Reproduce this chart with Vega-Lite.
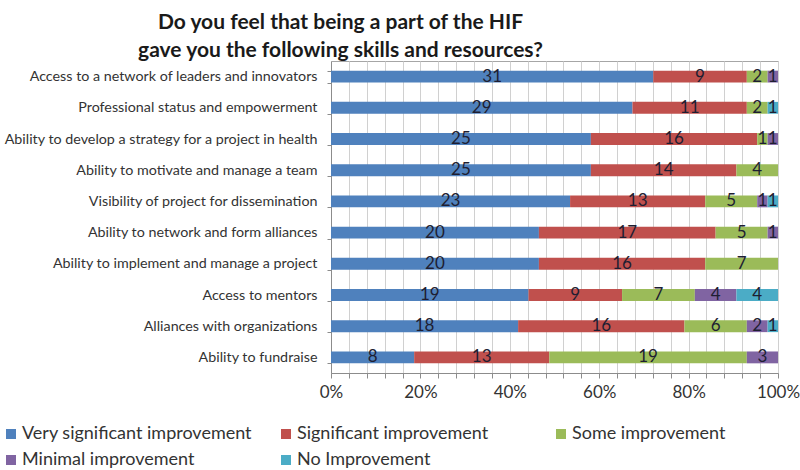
{
  "$schema": "https://vega.github.io/schema/vega-lite/v6.json",
  "autosize": "none",
  "width": 447,
  "height": 312,
  "padding": {"left": 331, "top": 61, "right": 22, "bottom": 97},
  "background": "white",
  "config": {
    "font": "Lato",
    "view": {"stroke": "#a6a6a6", "strokeWidth": 1}
  },
  "title": {
    "text": ["Do you feel that being a part of the HIF", "gave you the following skills and resources?"],
    "anchor": "middle",
    "frame": "group",
    "dx": -214,
    "fontSize": 21,
    "fontWeight": "bold",
    "color": "#1a1a1a",
    "lineHeight": 28.5,
    "offset": -7,
    "font": "Lato"
  },
  "data": {
    "values": [
      {"skill": "Access to a network of leaders and innovators", "level": "Very significant improvement", "rank": 1, "n": 31},
      {"skill": "Access to a network of leaders and innovators", "level": "Significant improvement", "rank": 2, "n": 9},
      {"skill": "Access to a network of leaders and innovators", "level": "Some improvement", "rank": 3, "n": 2},
      {"skill": "Access to a network of leaders and innovators", "level": "Minimal improvement", "rank": 4, "n": 1},
      {"skill": "Professional status and empowerment", "level": "Very significant improvement", "rank": 1, "n": 29},
      {"skill": "Professional status and empowerment", "level": "Significant improvement", "rank": 2, "n": 11},
      {"skill": "Professional status and empowerment", "level": "Some improvement", "rank": 3, "n": 2},
      {"skill": "Professional status and empowerment", "level": "No Improvement", "rank": 5, "n": 1},
      {"skill": "Ability to develop a strategy for a project in health", "level": "Very significant improvement", "rank": 1, "n": 25},
      {"skill": "Ability to develop a strategy for a project in health", "level": "Significant improvement", "rank": 2, "n": 16},
      {"skill": "Ability to develop a strategy for a project in health", "level": "Some improvement", "rank": 3, "n": 1},
      {"skill": "Ability to develop a strategy for a project in health", "level": "Minimal improvement", "rank": 4, "n": 1},
      {"skill": "Ability to motivate and manage a team", "level": "Very significant improvement", "rank": 1, "n": 25},
      {"skill": "Ability to motivate and manage a team", "level": "Significant improvement", "rank": 2, "n": 14},
      {"skill": "Ability to motivate and manage a team", "level": "Some improvement", "rank": 3, "n": 4},
      {"skill": "Visibility of project for dissemination", "level": "Very significant improvement", "rank": 1, "n": 23},
      {"skill": "Visibility of project for dissemination", "level": "Significant improvement", "rank": 2, "n": 13},
      {"skill": "Visibility of project for dissemination", "level": "Some improvement", "rank": 3, "n": 5},
      {"skill": "Visibility of project for dissemination", "level": "Minimal improvement", "rank": 4, "n": 1},
      {"skill": "Visibility of project for dissemination", "level": "No Improvement", "rank": 5, "n": 1},
      {"skill": "Ability to network and form alliances", "level": "Very significant improvement", "rank": 1, "n": 20},
      {"skill": "Ability to network and form alliances", "level": "Significant improvement", "rank": 2, "n": 17},
      {"skill": "Ability to network and form alliances", "level": "Some improvement", "rank": 3, "n": 5},
      {"skill": "Ability to network and form alliances", "level": "Minimal improvement", "rank": 4, "n": 1},
      {"skill": "Ability to implement and manage a project", "level": "Very significant improvement", "rank": 1, "n": 20},
      {"skill": "Ability to implement and manage a project", "level": "Significant improvement", "rank": 2, "n": 16},
      {"skill": "Ability to implement and manage a project", "level": "Some improvement", "rank": 3, "n": 7},
      {"skill": "Access to mentors", "level": "Very significant improvement", "rank": 1, "n": 19},
      {"skill": "Access to mentors", "level": "Significant improvement", "rank": 2, "n": 9},
      {"skill": "Access to mentors", "level": "Some improvement", "rank": 3, "n": 7},
      {"skill": "Access to mentors", "level": "Minimal improvement", "rank": 4, "n": 4},
      {"skill": "Access to mentors", "level": "No Improvement", "rank": 5, "n": 4},
      {"skill": "Alliances with organizations", "level": "Very significant improvement", "rank": 1, "n": 18},
      {"skill": "Alliances with organizations", "level": "Significant improvement", "rank": 2, "n": 16},
      {"skill": "Alliances with organizations", "level": "Some improvement", "rank": 3, "n": 6},
      {"skill": "Alliances with organizations", "level": "Minimal improvement", "rank": 4, "n": 2},
      {"skill": "Alliances with organizations", "level": "No Improvement", "rank": 5, "n": 1},
      {"skill": "Ability to fundraise", "level": "Very significant improvement", "rank": 1, "n": 8},
      {"skill": "Ability to fundraise", "level": "Significant improvement", "rank": 2, "n": 13},
      {"skill": "Ability to fundraise", "level": "Some improvement", "rank": 3, "n": 19},
      {"skill": "Ability to fundraise", "level": "Minimal improvement", "rank": 4, "n": 3}
    ]
  },
  "transform": [
    {"stack": "n", "groupby": ["skill"], "sort": [{"field": "rank", "order": "ascending"}], "offset": "normalize", "as": ["v0", "v1"]},
    {"calculate": "(datum.v0 + datum.v1) / 2", "as": "mid"}
  ],
  "encoding": {
    "y": {
      "field": "skill",
      "type": "nominal",
      "sort": null,
      "title": null,
      "scale": {"paddingInner": 0.62, "paddingOuter": 0.31},
      "axis": {
        "labelFontSize": 14.3,
        "labelColor": "#333333",
        "labelPadding": 10,
        "labelLimit": 400,
        "tickBand": "extent",
        "tickSize": 4,
        "tickColor": "#8c8c8c",
        "domainColor": "#8c8c8c",
        "grid": false
      }
    }
  },
  "layer": [
    {
      "mark": {"type": "bar"},
      "encoding": {
        "x": {
          "field": "v0",
          "type": "quantitative",
          "scale": {"domain": [0, 1], "nice": false},
          "title": null,
          "axis": {
            "values": [0, 0.04, 0.08, 0.12, 0.16, 0.2, 0.24, 0.28, 0.32, 0.36, 0.4, 0.44, 0.48, 0.52, 0.56, 0.6, 0.64, 0.68, 0.72, 0.76, 0.8, 0.84, 0.88, 0.92, 0.96, 1],
            "tickCount": 26,
            "format": ".0%",
            "labelExpr": "(round(datum.value * 100) % 20 == 0) ? datum.label : ''",
            "labelFontSize": 17,
            "labelColor": "#333333",
            "labelPadding": 6,
            "labelOverlap": false,
            "labelFlush": false,
            "tickSize": 5,
            "tickColor": "#8c8c8c",
            "domainColor": "#8c8c8c",
            "grid": true,
            "gridColor": "#d0d0d0",
            "gridWidth": 1
          }
        },
        "x2": {"field": "v1"},
        "color": {
          "field": "level",
          "type": "nominal",
          "scale": {
            "domain": ["Very significant improvement", "Significant improvement", "Some improvement", "Minimal improvement", "No Improvement"],
            "range": ["#4F81BD", "#C0504D", "#9BBB59", "#8064A2", "#4BACC6"]
          },
          "legend": {
            "title": null,
            "orient": "none",
            "legendX": -329,
            "legendY": 364,
            "direction": "horizontal",
            "columns": 3,
            "gridAlign": "all",
            "columnPadding": 24,
            "rowPadding": 8,
            "symbolType": "square",
            "symbolSize": 100,
            "symbolStrokeWidth": 0,
            "labelFontSize": 18,
            "labelColor": "#333333",
            "labelLimit": 400,
            "labelOffset": 2
          }
        }
      }
    },
    {
      "mark": {"type": "text", "fontSize": 17, "color": "#1e1e32", "baseline": "middle", "align": "center"},
      "encoding": {
        "x": {"field": "mid", "type": "quantitative"},
        "text": {"field": "n", "type": "quantitative"}
      }
    }
  ]
}
